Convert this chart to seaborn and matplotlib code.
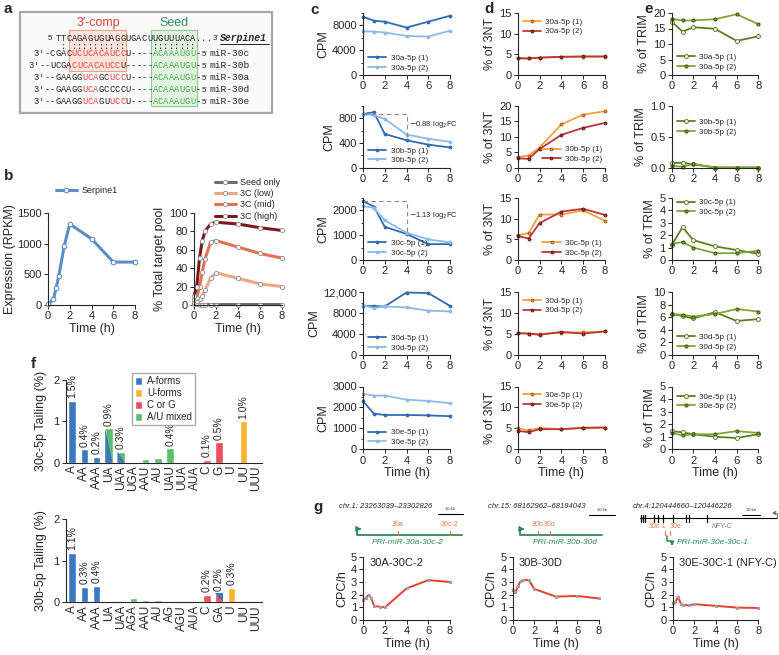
import numpy as np
import pandas as pd
import matplotlib
matplotlib.use('Agg')
import matplotlib.pyplot as plt
from matplotlib.patches import Rectangle
from matplotlib.ticker import AutoMinorLocator
import seaborn as sns

sns.set_style('ticks')
plt.rcParams['font.family'] = ['Liberation Sans', 'DejaVu Sans']
plt.rcParams['axes.linewidth'] = 0.8

# ---------------- data ----------------
# panel b
b_time = [0, 0.5, 0.75, 1, 1.5, 2, 4, 6, 8]
b_serpine1 = [10, 90, 280, 480, 970, 1320, 1080, 700, 700]
b2_time = [0, 0.25, 0.5, 0.75, 1, 1.5, 2, 4, 6, 8]
b2_seed = [1, 1, 0.5, 0.5, 0.5, 0.5, 0.5, 0.5, 0.5, 0.5]
b2_low = [3, 4, 6, 10, 16, 29, 35, 29, 23, 20]
b2_mid = [7, 8, 20, 36, 50, 68, 70, 63, 56, 51]
b2_high = [10, 20, 51, 70, 80, 88, 90, 88, 84, 81]

# panels c-e
t6 = [0, 1, 2, 4, 6, 8]
mirs = ['30a', '30b', '30c', '30d', '30e']
c_rep1 = {'30a': [9400, 8750, 8600, 7650, 8600, 9550],
          '30b': [870, 900, 545, 443, 372, 326],
          '30c': [2380, 2150, 1340, 1050, 640, 640],
          '30d': [9400, 9300, 9250, 11900, 11800, 9350],
          '30e': [2300, 1700, 1640, 1640, 1620, 1580]}
c_rep2 = {'30a': [7050, 7000, 6850, 6300, 6200, 7150],
          '30b': [870, 850, 790, 535, 468, 418],
          '30c': [2180, 2100, 1600, 1100, 830, 710],
          '30d': [9450, 8950, 9250, 9050, 8450, 8300],
          '30e': [2660, 2560, 2570, 2370, 2310, 2200]}
c_fc_text = {'30b': '0.88', '30c': '1.13'}
d_rep1 = {'30a': [4.0, 4.0, 4.2, 4.4, 4.4, 4.4],
          '30b': [3.4, 3.9, 6.5, 14.0, 17.2, 18.3],
          '30c': [6.0, 6.5, 11.0, 11.0, 12.0, 9.5],
          '30d': [5.2, 5.1, 5.0, 5.3, 5.4, 5.6],
          '30e': [5.0, 4.5, 5.1, 4.8, 5.2, 5.2]}
d_rep2 = {'30a': [4.1, 4.0, 4.2, 4.4, 4.5, 4.5],
          '30b': [3.0, 2.8, 6.0, 10.6, 12.9, 14.5],
          '30c': [5.8, 5.2, 8.9, 11.7, 12.4, 10.9],
          '30d': [5.2, 5.1, 4.8, 5.5, 5.1, 5.6],
          '30e': [4.4, 4.1, 4.8, 4.8, 5.1, 5.2]}
e_rep1 = {'30a': [17.2, 14.0, 15.4, 14.9, 11.0, 12.5],
          '30b': [0.07, 0.08, 0.05, 0.0, 0.0, 0.0],
          '30c': [1.2, 2.65, 1.6, 1.1, 0.8, 0.5],
          '30d': [6.5, 6.2, 5.8, 6.8, 5.4, 5.7],
          '30e': [1.45, 1.35, 1.2, 1.0, 0.9, 1.2]}
e_rep2 = {'30a': [18.1, 17.6, 17.6, 18.0, 19.6, 16.4],
          '30b': [0.03, 0.01, 0.06, 0.0, 0.0, 0.0],
          '30c': [1.3, 1.45, 1.0, 0.55, 0.55, 0.75],
          '30d': [6.5, 6.4, 6.1, 6.5, 7.3, 6.9],
          '30e': [1.3, 1.1, 1.2, 1.2, 1.45, 1.3]}

# panel f
f_top_cats = ['A', 'AA', 'AAA', 'UA', 'UAA', 'UGA', 'AAU', 'AU', 'UAU', 'UUA', 'AUA', 'C', 'G', 'U', 'UU', 'UUU']
f_top_vals = [1.5, 0.32, 0.14, 0.83, 0.27, 0.02, 0.08, 0.11, 0.35, 0.02, 0.0, 0.07, 0.5, 0.0, 1.0, 0.02]
f_top_type = ['A', 'A', 'A', 'AU+A', 'AU+A', 'AU', 'AU', 'AU', 'AU', 'AU', 'AU', 'CG', 'CG', 'U', 'U', 'U']
f_top_labels = ['1.5%', '0.4%', '0.2%', '0.9%', '0.3%', '', '', '', '0.4%', '', '', '0.1%', '0.5%', '', '1.0%', '']
f_bot_cats = ['A', 'AA', 'AAA', 'UA', 'UAA', 'AGA', 'AAU', 'AU', 'AG', 'AGU', 'AUA', 'C', 'GA', 'U', 'UU', 'UUU']
f_bot_vals = [1.2, 0.37, 0.4, 0.0, 0.02, 0.1, 0.06, 0.06, 0.03, 0.04, 0.03, 0.18, 0.22, 0.35, 0.0, 0.0]
f_bot_type = ['A', 'A', 'A', 'A', 'AU', 'AU', 'AU', 'AU', 'AU', 'AU', 'AU', 'CG', 'CG+A', 'U', 'U', 'U']
f_bot_labels = ['1.1%', '0.3%', '0.4%', '', '', '', '', '', '', '', '', '0.2%', '0.2%', '0.3%', '', '']
f_legend = ['A-forms', 'U-forms', 'C or G', 'A/U mixed']

# panel g
g_time = [0, 0.25, 0.5, 0.75, 1, 1.5, 2, 4, 6, 8]
g_30a30c2 = [1.6, 1.75, 2.0, 1.7, 1.1, 1.05, 1.0, 2.5, 3.15, 3.0]
g_30b30d = [2.35, 2.2, 2.7, 3.1, 3.15, 3.15, 2.45, 1.85, 1.9, 1.7]
g_30e30c1 = [1.35, 1.4, 1.85, 1.3, 1.2, 1.15, 1.25, 1.12, 0.98, 0.95]
g_titles = ['30A-30C-2', '30B-30D', '30E-30C-1 (NFY-C)']

# ---------------- figure ----------------
W, H = 779, 655
fig = plt.figure(figsize=(W / 100, H / 100), dpi=100)


def px_axes(l, t, r, b):
    return fig.add_axes([l / W, 1 - b / H, (r - l) / W, (b - t) / H])


FS = 8


def style(ax, ylim, yticks, ylabel='', yticklabels=None, xlabel=False, xlim=(0, 8), minor=False):
    ax.set_xlim(*xlim)
    ax.set_ylim(*ylim)
    ax.set_xticks([0, 2, 4, 6, 8])
    ax.set_yticks(yticks)
    if yticklabels is not None:
        ax.set_yticklabels(yticklabels)
    sns.despine(ax=ax)
    ax.tick_params(labelsize=FS, length=3, width=0.7, pad=1.5)
    ax.set_ylabel(ylabel, fontsize=9, labelpad=2)
    ax.set_xlabel('Time (h)' if xlabel else '', fontsize=9, labelpad=1)
    if minor:
        ax.yaxis.set_minor_locator(AutoMinorLocator(2))
        ax.tick_params(which='minor', length=1.8, width=0.6)


def leg(ax, loc, anchor=None, fs=5.8):
    kw = dict(loc=loc, fontsize=fs, frameon=False, handlelength=2.3, handletextpad=0.5,
              labelspacing=0.25, borderaxespad=0.2, borderpad=0.2)
    if anchor is not None:
        kw['bbox_to_anchor'] = anchor
    ax.legend(**kw)


# ---- panel b ----
ax = px_axes(48, 213, 135, 305)
sns.lineplot(x=b_time, y=b_serpine1, ax=ax, color='#5B8FC8', lw=2.2, marker='o', ms=3.3,
             mfc='white', mec='#5B8FC8', mew=0.8, label='Serpine1', clip_on=False)
style(ax, (0, 1500), [0, 500, 1000, 1500], 'Expression (RPKM)', xlabel=True)
ax.yaxis.labelpad = 1
leg(ax, 'upper left', (0.05, 1.33), fs=6.5)

ax = px_axes(194, 213, 282, 305)
for vals, col, lab in [(b2_seed, '#6E6E6E', 'Seed only'), (b2_low, '#F2A488', '3C (low)'),
                       (b2_mid, '#E8704F', '3C (mid)'), (b2_high, '#7A1A1E', '3C (high)')]:
    sns.lineplot(x=b2_time, y=vals, ax=ax, color=col, lw=2.2, marker='o', ms=3.0,
                 mfc='white', mec='#999999', mew=0.7, label=lab, clip_on=False)
style(ax, (0, 100), [0, 20, 40, 60, 80, 100], '% Total target pool', xlabel=True)
leg(ax, 'upper right', (1.02, 1.42), fs=6.5)

# ---- panels c, d, e ----
rows = [(13, 75), (106, 167.5), (198, 260), (292, 355), (386.5, 449.3)]
c_ylim = {'30a': (0, 10000), '30b': (0, 1000), '30c': (0, 2500), '30d': (0, 12000), '30e': (0, 3000)}
c_ticks = {'30a': [0, 4000, 8000], '30b': [0, 400, 800], '30c': [0, 1000, 2000],
           '30d': [0, 4000, 8000, 12000], '30e': [0, 1000, 2000, 3000]}
d_ylim = {'30a': 15, '30b': 20, '30c': 15, '30d': 15, '30e': 15}
e_ylim = {'30a': 20, '30b': 1.0, '30c': 5, '30d': 10, '30e': 5}
e_ticks = {'30a': [0, 5, 10, 15, 20], '30b': [0, 0.5, 1.0], '30c': [0, 1, 2, 3, 4, 5],
           '30d': [0, 2, 4, 6, 8, 10], '30e': [0, 1, 2, 3, 4, 5]}
d_leg = {'30a': ('upper left', (0.02, 0.97)), '30b': ('lower right', (1.0, 0.02)),
         '30c': ('lower right', (1.0, 0.0)), '30d': ('upper left', (0.02, 0.97)),
         '30e': ('upper left', (0.02, 0.97))}
e_leg = {'30a': ('lower left', (0.02, 0.02)), '30b': ('upper left', (0.02, 0.85)),
         '30c': ('upper left', (0.02, 1.04)), '30d': ('lower left', (0.02, 0.02)),
         '30e': ('upper left', (0.02, 0.95))}

C1, C2 = '#2F6CB3', '#8DBBE6'
D1, D2 = '#F4A03C', '#B8383A'
E1, E2 = '#5E7D22', '#7FA636'

for i, m in enumerate(mirs):
    t, b = rows[i]
    last = (i == len(mirs) - 1)
    # c
    ax = px_axes(363, t, 450, b)
    sns.lineplot(x=t6, y=c_rep1[m], ax=ax, color=C1, lw=1.3, marker='o', ms=2.0, mec=C1,
                 label=f'{m}-5p (1)', clip_on=False)
    sns.lineplot(x=t6, y=c_rep2[m], ax=ax, color=C2, lw=1.3, marker='o', ms=2.0, mec=C2,
                 label=f'{m}-5p (2)', clip_on=False)
    labs = ['12,000' if v == 12000 else str(v) for v in c_ticks[m]]
    style(ax, c_ylim[m], c_ticks[m], 'CPM', yticklabels=labs, xlabel=last, minor=True)
    leg(ax, 'lower left', (0.02, 0.0))
    if m in c_fc_text:
        start = max(c_rep1[m][0], c_rep2[m][0])
        end = (c_rep1[m][3] + c_rep2[m][3]) / 2
        ax.plot([0, 4, 4], [start, start, end], ls=(0, (4, 3)), color='#8A8A8A', lw=0.8)
        ax.text(4.25, start - (start - end) * 0.45, f'$-${c_fc_text[m]} log$_2$FC',
                fontsize=5.5, va='center', ha='left')
    # d
    ax = px_axes(517.7, t, 605, b)
    sns.lineplot(x=t6, y=d_rep1[m], ax=ax, color=D1, lw=1.3, marker='o', ms=2.0, mec='#B05A1A',
                 label=f'{m}-5p (1)', clip_on=False)
    sns.lineplot(x=t6, y=d_rep2[m], ax=ax, color=D2, lw=1.3, marker='o', ms=2.0, mec='#6A1A1A',
                 label=f'{m}-5p (2)', clip_on=False)
    dt = list(range(0, d_ylim[m] + 1, 5))
    style(ax, (0, d_ylim[m]), dt, '% of 3NT', xlabel=last)
    leg(ax, *d_leg[m])
    # e
    ax = px_axes(671.7, t, 758.3, b)
    sns.lineplot(x=t6, y=e_rep1[m], ax=ax, color=E1, lw=1.3, marker='o', ms=2.8, mfc='white',
                 mec=E1, mew=0.7, label=f'{m}-5p (1)', clip_on=False)
    sns.lineplot(x=t6, y=e_rep2[m], ax=ax, color=E2, lw=1.3, marker='o', ms=2.2, mec='#3E5A12',
                 label=f'{m}-5p (2)', clip_on=False)
    tl = [f'{v:.1f}' for v in e_ticks[m]] if m == '30b' else None
    style(ax, (0, e_ylim[m]), e_ticks[m], '% of TRIM', yticklabels=tl, xlabel=last)
    leg(ax, *e_leg[m])

# ---- panel f ----
f_colors = {'A': '#3B78BF', 'U': '#F6B432', 'CG': '#EE4D5B', 'AU': '#5CBB6D'}


def tail_panel(l, t, r, b, cats, vals, types, labels, ylabel, legend=False, upper=False):
    ax = px_axes(l, t, r, b)
    pal = {c: f_colors[ty.split('+')[0]] for c, ty in zip(cats, types)}
    sns.barplot(x=cats, y=vals, hue=cats, palette=pal, legend=False, ax=ax, width=0.6,
                saturation=1, order=cats, hue_order=cats)
    for p in ax.patches:
        idx = int(round(p.get_x() + p.get_width() / 2))
        ty = types[idx]
        if '+' in ty:
            x0, x1, h = p.get_x(), p.get_x() + p.get_width(), p.get_height()
            over = f_colors[ty.split('+')[1]]
            if upper:
                ax.fill([x0, x1, x1], [h, h, 0], color=over, lw=0)
            else:
                ax.fill([x0, x0, x1], [0, h, 0], color=over, lw=0)
    for i, (v, s) in enumerate(zip(vals, labels)):
        if s:
            ax.text(i, v + 0.06, s, rotation=90, ha='center', va='bottom', fontsize=7.5)
    ax.set_xlim(-0.5, len(cats) - 0.5)
    ax.set_ylim(0, 2)
    ax.set_yticks([0, 1, 2])
    sns.despine(ax=ax)
    ax.tick_params(axis='y', labelsize=FS, length=3, width=0.7, pad=1.5)
    ax.tick_params(axis='x', labelsize=8.5, length=0, pad=2, rotation=90)
    ax.set_ylabel(ylabel, fontsize=9, labelpad=5)
    ax.set_xlabel('')
    if legend:
        handles = [Rectangle((0, 0), 1, 1, fc=f_colors[k]) for k in ['A', 'U', 'CG', 'AU']]
        ax.legend(handles, f_legend, loc='upper left', bbox_to_anchor=(0.31, 1.14), fontsize=7,
                  frameon=True, fancybox=False, edgecolor='#999999', handlelength=0.8,
                  handleheight=0.9, handletextpad=0.5, labelspacing=0.2, borderpad=0.3)
    return ax


tail_panel(66, 380, 262, 462.7, f_top_cats, f_top_vals, f_top_type, f_top_labels,
           '30c-5p Tailing (%)', legend=True)
tail_panel(66, 519.3, 262, 602.3, f_bot_cats, f_bot_vals, f_bot_type, f_bot_labels,
           '30b-5p Tailing (%)', upper=True)

# ---- panel g ----
for (l, r), vals, title in zip([(363.3, 450), (512.7, 599), (672.7, 758.3)],
                               [g_30a30c2, g_30b30d, g_30e30c1], g_titles):
    ax = px_axes(l, 556.7, r, 620)
    sns.lineplot(x=g_time, y=vals, ax=ax, color='#E8402A', lw=1.4, marker='s', ms=1.6,
                 mfc='#A0A0A0', mec='#A0A0A0', clip_on=False)
    style(ax, (0, 5), [0, 1, 2, 3, 4, 5], 'CPC/h', xlabel=True)
    ax.text(0.07, 0.98, title, transform=ax.transAxes, fontsize=8, va='top', ha='left')

# ---------------- overlay (panel a, gene diagrams, panel letters) ----------------
ov = fig.add_axes([0, 0, 1, 1], zorder=10)
ov.set_xlim(0, W)
ov.set_ylim(H, 0)
ov.axis('off')
ov.patch.set_alpha(0)

for s, (x, y) in zip('abcdefg', [(4, 9), (4, 176), (310, 10), (484, 9), (644, 9), (31, 364), (313, 507)]):
    ov.text(x, y, s, fontsize=11, fontweight='bold', ha='left', va='center')

# panel a
KC, RC, GC = '#222222', '#E8433A', '#4FAE55'
ov.add_patch(Rectangle((20, 12), 252, 101, fc='#FAFAFA', ec='#A8A8A8', lw=1.6))
ov.add_patch(Rectangle((69.5, 30), 57, 41, fc='#FCE4DC', ec='#F2A08A', lw=0.8))
ov.add_patch(Rectangle((151, 30), 46.5, 76, fc='#E4F3E1', ec='#8CCB8C', lw=0.8))
ov.text(98, 23, "3′-comp", color='#E0463C', fontsize=9, ha='center', va='center')
ov.text(174, 23, 'Seed', color='#2F8F55', fontsize=9, ha='center', va='center')

X0, CW = 71.5, 5.4


def put(y, col, s, color=KC):
    for k, ch in enumerate(s):
        ov.text(X0 + (col + k + 0.5) * CW, y, ch, ha='center', va='center', fontsize=6.3,
                family='Liberation Mono', color=color)


put(38.5, -3, 'TTC'); put(38.5, 0, 'AGAGUGUAGG'); put(38.5, 10, 'UGACU'); put(38.5, 15, 'UGUUUACA')
put(38.5, 23, '...')
ov.text(53, 38.5, "5′", fontsize=5.5, ha='right', va='center')
ov.text(212.5, 38.5, "3′", fontsize=5.5, ha='left', va='center')
ov.text(220, 38, 'Serpine1', fontsize=7.0, family='Liberation Mono', style='italic',
        fontweight='bold', ha='left', va='center')
ov.plot([220, 269], [43.5, 43.5], color='k', lw=0.6)
put(46.5, -2, ':'); put(46.5, 0, ':' * 10); put(46.5, 15, ':' * 8)

mir_rows = [
    (54, [(-7, "3'-CGAC", KC), (0, 'UCUCACAUCC', RC), (10, 'U----', KC)], 'miR-30c'),
    (66, [(-8, "3'--UCGA", KC), (0, 'CUCACAUCC', RC), (9, 'U-----', KC)], 'miR-30b'),
    (78, [(-7, "3'--GAAGG", KC), (2, 'UCA', RC), (5, 'GC', KC), (7, 'UCC', RC), (10, 'U----', KC)], 'miR-30a'),
    (90, [(-7, "3'--GAAGG", KC), (2, 'UCA', RC), (5, 'GCCCC', KC), (10, 'U----', KC)], 'miR-30d'),
    (102, [(-7, "3'--GAAGG", KC), (2, 'UCA', RC), (5, 'GU', KC), (7, 'UCC', RC), (10, 'U----', KC)], 'miR-30e'),
]
for y, segs, name in mir_rows:
    for col, s, c in segs:
        put(y, col, s, c)
    put(y, 15, 'ACAAAUGU', GC)
    put(y, 23, '-')
    ov.text(201.5, y, "5′", fontsize=5.5, ha='left', va='center')
    ov.text(209.5, y, name, fontsize=6.8, family='Liberation Mono', ha='left', va='center')

# panel g gene diagrams
GR, OR = '#2E8B57', '#F07A50'
ov.text(339, 507, 'chr.1: 23263039–23302826', fontsize=5.5, style='italic', ha='left', va='center')
ov.plot([438, 463], [514, 514], color='k', lw=0.8)
ov.text(450, 511, '10 kb', fontsize=3, ha='center', va='bottom')
ov.plot([357, 357, 462], [529, 535, 535], color=GR, lw=1.3)
ov.annotate('', xy=(364, 529), xytext=(356.4, 529),
            arrowprops=dict(arrowstyle='-|>,head_length=0.25,head_width=0.15', color=GR, lw=1.2))
for x, s in [(397.7, '30a'), (450, '30c-2')]:
    ov.plot([x, x], [530.5, 534.5], color=OR, lw=0.9)
    ov.text(x, 525, s, fontsize=5, color=OR, ha='center', va='center')
ov.text(408, 543, 'PRI-miR-30a-30c-2', fontsize=6, style='italic', color=GR, ha='center', va='center')

ov.text(488, 507, 'chr.15: 68162962–68194043', fontsize=5.5, style='italic', ha='left', va='center')
ov.plot([589, 615], [515, 515], color='k', lw=0.8)
ov.text(602, 512, '10 kb', fontsize=3, ha='center', va='bottom')
ov.plot([520, 520, 602], [529, 535, 535], color=GR, lw=1.3)
ov.annotate('', xy=(527, 529), xytext=(519.4, 529),
            arrowprops=dict(arrowstyle='-|>,head_length=0.25,head_width=0.15', color=GR, lw=1.2))
for x, s in [(537.7, '30b'), (550, '30d')]:
    ov.plot([x, x], [530.5, 534.5], color=OR, lw=0.9)
    ov.text(x, 525, s, fontsize=5, color=OR, ha='center', va='center')
ov.text(565, 543, 'PRI-miR-30b-30d', fontsize=6, style='italic', color=GR, ha='center', va='center')

ov.text(633, 507, 'chr.4:120444660–120446226', fontsize=5.5, style='italic', ha='left', va='center')
ov.plot([640, 777], [518, 518], color='k', lw=0.8)
for x in [641, 643, 645.5, 654, 657.7, 663, 673, 685.7, 689, 706.7]:
    ov.plot([x, x], [514.5, 521.5], color='k', lw=0.9)
ov.plot([777, 777], [518, 513], color='#777777', lw=0.8)
ov.annotate('', xy=(772, 513), xytext=(777.3, 513),
            arrowprops=dict(arrowstyle='-|>,head_length=0.2,head_width=0.12', color='#777777', lw=0.8))
ov.plot([742, 760], [515, 515], color='k', lw=0.8)
ov.text(751, 512, '10 kb', fontsize=3, ha='center', va='bottom')
ov.text(722, 527, 'NFY-C', fontsize=5, style='italic', color='#777777', ha='center', va='center')
for x, s in [(657, '30c-1'), (676, '30e')]:
    ov.text(x, 526, s, fontsize=5, color=OR, ha='center', va='center')
for x in [665, 670]:
    ov.plot([x, x], [530.5, 535], color=OR, lw=0.9)
ov.plot([667, 667, 672], [536, 541, 541], color=GR, lw=1.1)
ov.annotate('', xy=(672, 545.5), xytext=(672, 540.5),
            arrowprops=dict(arrowstyle='-|>,head_length=0.2,head_width=0.12', color=GR, lw=1.0))
ov.text(677, 543, 'PRI-miR-30e-30c-1', fontsize=6, style='italic', color=GR, ha='left', va='center')

fig.savefig('out.png', dpi=100)
